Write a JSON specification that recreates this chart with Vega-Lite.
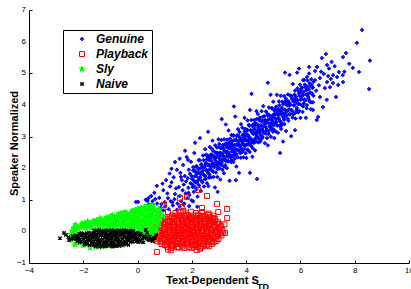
{
"$schema": "https://vega.github.io/schema/vega-lite/v6.json",
"width": 380, "height": 253,
"autosize": {"type": "none"},
"padding": {"left": 29, "top": 10, "right": 2, "bottom": 26},
"background": "white",
"config": {
"view": {"stroke": null},
"font": "Liberation Sans",
"axis": {"grid": false, "domainColor": "#000", "tickColor": "#000", "labelColor": "#000", "labelFont": "Liberation Sans", "labelFontSize": 8, "tickSize": -3, "labelPadding": 6, "labelOverlap": false, "labelFlush": false, "titleFont": "Liberation Sans", "titleFontSize": 11, "titleFontWeight": "bold", "titleColor": "#000", "domainWidth": 1, "tickWidth": 1}
},
"layer": [
{
"data": {"values": [
{"s":"G","x":0.02,"y":0.93},{"s":"G","x":0.36,"y":0.97},{"s":"G","x":0.40,"y":1.05},{"s":"G","x":0.57,"y":0.68},{"s":"G","x":0.80,"y":1.06},{"s":"G","x":0.62,"y":1.22},{"s":"G","x":0.95,"y":1.30},{"s":"G","x":1.05,"y":1.62},{"s":"G","x":0.88,"y":0.86},{"s":"G","x":1.12,"y":1.05},{"s":"G","x":1.20,"y":1.42},{"s":"G","x":1.28,"y":0.92},{"s":"G","x":1.33,"y":1.71},{"s":"G","x":1.38,"y":1.18},{"s":"G","x":1.45,"y":1.95},{"s":"G","x":1.47,"y":0.88},{"s":"G","x":0.71,"y":1.44},{"s":"G","x":1.02,"y":0.79},{"s":"G","x":1.18,"y":1.83},{"s":"G","x":1.42,"y":1.36},{"s":"G","x":0.50,"y":1.12},{"s":"G","x":1.25,"y":1.55},{"s":"G","x":1.10,"y":1.20},{"s":"G","x":1.36,"y":1.02},{"s":"G","x":0.92,"y":1.51},
{"s":"G","x":0.55,"y":0.95},{"s":"G","x":0.72,"y":0.88},{"s":"G","x":0.85,"y":0.75},{"s":"G","x":1.00,"y":0.92},{"s":"G","x":1.15,"y":0.70},{"s":"G","x":1.30,"y":0.82},{"s":"G","x":1.45,"y":0.68},{"s":"G","x":0.65,"y":1.02},{"s":"G","x":0.95,"y":0.66},{"s":"G","x":1.22,"y":0.95},{"s":"G","x":0.40,"y":0.86},{"s":"G","x":0.30,"y":1.00},{"s":"G","x":1.55,"y":0.78},{"s":"G","x":1.70,"y":0.85},{"s":"G","x":1.90,"y":0.80},{"s":"G","x":2.05,"y":0.95},{"s":"G","x":2.20,"y":0.78},{"s":"G","x":0.46,"y":0.52},{"s":"G","x":-0.06,"y":0.93},{"s":"G","x":1.38,"y":2.19},{"s":"G","x":1.55,"y":2.30},{"s":"G","x":1.25,"y":1.98},
{"s":"G","x":1.52,"y":1.40},{"s":"G","x":1.55,"y":1.12},{"s":"G","x":1.58,"y":1.85},{"s":"G","x":1.61,"y":0.95},{"s":"G","x":1.63,"y":1.62},{"s":"G","x":1.66,"y":1.30},{"s":"G","x":1.68,"y":2.10},{"s":"G","x":1.70,"y":1.48},{"s":"G","x":1.72,"y":0.88},{"s":"G","x":1.74,"y":1.75},{"s":"G","x":1.77,"y":1.20},{"s":"G","x":1.79,"y":1.58},{"s":"G","x":1.81,"y":2.35},{"s":"G","x":1.83,"y":1.05},{"s":"G","x":1.85,"y":1.68},{"s":"G","x":1.87,"y":1.38},{"s":"G","x":1.89,"y":1.95},{"s":"G","x":1.91,"y":1.15},{"s":"G","x":1.93,"y":1.82},{"s":"G","x":1.95,"y":1.52},{"s":"G","x":1.97,"y":2.20},{"s":"G","x":1.99,"y":0.98},{"s":"G","x":2.01,"y":1.66},{"s":"G","x":2.03,"y":1.40},{"s":"G","x":2.05,"y":1.92},{"s":"G","x":2.07,"y":1.25},{"s":"G","x":2.09,"y":2.48},{"s":"G","x":2.11,"y":1.74},{"s":"G","x":2.13,"y":1.55},{"s":"G","x":2.15,"y":2.05},{"s":"G","x":2.17,"y":1.33},{"s":"G","x":2.19,"y":1.85},{"s":"G","x":2.21,"y":1.10},{"s":"G","x":2.23,"y":1.62},{"s":"G","x":2.25,"y":2.25},{"s":"G","x":2.27,"y":1.45},{"s":"G","x":2.29,"y":1.98},{"s":"G","x":2.31,"y":1.70},{"s":"G","x":2.33,"y":1.28},{"s":"G","x":2.35,"y":2.12},{"s":"G","x":2.37,"y":1.88},{"s":"G","x":2.39,"y":1.55},{"s":"G","x":2.41,"y":2.40},{"s":"G","x":2.43,"y":1.78},{"s":"G","x":2.45,"y":1.42},{"s":"G","x":2.46,"y":2.02},{"s":"G","x":2.48,"y":1.65},{"s":"G","x":2.49,"y":2.60},{"s":"G","x":1.60,"y":1.72},{"s":"G","x":1.88,"y":1.22},
{"s":"G","x":2.50,"y":2.12},{"s":"G","x":2.51,"y":1.66},{"s":"G","x":2.53,"y":2.43},{"s":"G","x":2.54,"y":1.94},{"s":"G","x":2.55,"y":2.28},{"s":"G","x":2.56,"y":1.52},{"s":"G","x":2.58,"y":2.10},{"s":"G","x":2.59,"y":1.85},{"s":"G","x":2.60,"y":2.39},{"s":"G","x":2.61,"y":1.43},{"s":"G","x":2.63,"y":2.26},{"s":"G","x":2.64,"y":2.11},{"s":"G","x":2.65,"y":1.80},{"s":"G","x":2.66,"y":2.67},{"s":"G","x":2.68,"y":1.98},{"s":"G","x":2.69,"y":2.34},{"s":"G","x":2.70,"y":1.71},{"s":"G","x":2.71,"y":2.43},{"s":"G","x":2.73,"y":2.11},{"s":"G","x":2.74,"y":2.61},{"s":"G","x":2.75,"y":1.92},{"s":"G","x":2.76,"y":2.87},{"s":"G","x":2.78,"y":2.07},{"s":"G","x":2.79,"y":2.54},{"s":"G","x":2.80,"y":1.72},{"s":"G","x":2.81,"y":2.33},{"s":"G","x":2.83,"y":2.03},{"s":"G","x":2.84,"y":2.28},{"s":"G","x":2.85,"y":1.39},{"s":"G","x":2.86,"y":2.72},{"s":"G","x":2.88,"y":2.49},{"s":"G","x":2.89,"y":1.86},{"s":"G","x":2.90,"y":2.35},{"s":"G","x":2.91,"y":2.19},{"s":"G","x":2.93,"y":2.65},{"s":"G","x":2.94,"y":1.72},{"s":"G","x":2.95,"y":2.48},{"s":"G","x":2.96,"y":2.02},{"s":"G","x":2.98,"y":2.91},{"s":"G","x":2.99,"y":2.15},{"s":"G","x":3.00,"y":2.32},{"s":"G","x":3.01,"y":2.76},{"s":"G","x":3.03,"y":1.99},{"s":"G","x":3.04,"y":2.49},{"s":"G","x":3.05,"y":1.64},{"s":"G","x":3.06,"y":2.63},{"s":"G","x":3.08,"y":2.27},{"s":"G","x":3.09,"y":2.89},{"s":"G","x":3.10,"y":2.17},{"s":"G","x":3.11,"y":2.47},{"s":"G","x":3.13,"y":1.95},{"s":"G","x":3.14,"y":2.73},{"s":"G","x":3.15,"y":2.39},{"s":"G","x":3.16,"y":2.64},{"s":"G","x":3.18,"y":1.84},{"s":"G","x":3.19,"y":2.91},{"s":"G","x":3.20,"y":2.31},{"s":"G","x":3.21,"y":2.75},{"s":"G","x":3.23,"y":2.09},{"s":"G","x":3.24,"y":2.50},{"s":"G","x":3.25,"y":3.38},{"s":"G","x":3.26,"y":2.22},{"s":"G","x":3.28,"y":2.67},{"s":"G","x":3.29,"y":2.00},{"s":"G","x":3.30,"y":2.90},{"s":"G","x":3.31,"y":2.46},{"s":"G","x":3.33,"y":2.64},{"s":"G","x":3.34,"y":2.21},{"s":"G","x":3.35,"y":3.19},{"s":"G","x":3.36,"y":2.35},{"s":"G","x":3.38,"y":2.81},{"s":"G","x":3.39,"y":1.60},{"s":"G","x":3.40,"y":2.62},{"s":"G","x":3.41,"y":2.93},{"s":"G","x":3.43,"y":2.35},{"s":"G","x":3.44,"y":2.73},{"s":"G","x":3.45,"y":2.19},{"s":"G","x":3.46,"y":3.05},{"s":"G","x":3.48,"y":2.53},{"s":"G","x":3.49,"y":2.85},
{"s":"G","x":3.50,"y":2.38},{"s":"G","x":3.51,"y":2.70},{"s":"G","x":3.53,"y":2.19},{"s":"G","x":3.54,"y":3.04},{"s":"G","x":3.55,"y":2.50},{"s":"G","x":3.56,"y":2.88},{"s":"G","x":3.58,"y":2.30},{"s":"G","x":3.59,"y":2.62},{"s":"G","x":3.60,"y":3.63},{"s":"G","x":3.61,"y":2.42},{"s":"G","x":3.63,"y":2.88},{"s":"G","x":3.64,"y":2.05},{"s":"G","x":3.65,"y":3.02},{"s":"G","x":3.66,"y":2.59},{"s":"G","x":3.68,"y":2.77},{"s":"G","x":3.69,"y":2.34},{"s":"G","x":3.70,"y":3.23},{"s":"G","x":3.71,"y":2.56},{"s":"G","x":3.73,"y":3.01},{"s":"G","x":3.74,"y":1.85},{"s":"G","x":3.75,"y":2.74},{"s":"G","x":3.76,"y":3.14},{"s":"G","x":3.78,"y":2.48},{"s":"G","x":3.79,"y":2.92},{"s":"G","x":3.80,"y":2.33},{"s":"G","x":3.81,"y":3.39},{"s":"G","x":3.83,"y":2.59},{"s":"G","x":3.84,"y":2.84},{"s":"G","x":3.85,"y":2.50},{"s":"G","x":3.86,"y":3.28},{"s":"G","x":3.88,"y":2.76},{"s":"G","x":3.89,"y":3.06},{"s":"G","x":3.90,"y":2.34},{"s":"G","x":3.91,"y":2.96},{"s":"G","x":3.93,"y":2.60},{"s":"G","x":3.94,"y":3.59},{"s":"G","x":3.95,"y":2.74},{"s":"G","x":3.96,"y":3.24},{"s":"G","x":3.98,"y":2.47},{"s":"G","x":3.99,"y":2.91},{"s":"G","x":4.00,"y":3.08},{"s":"G","x":4.01,"y":2.32},{"s":"G","x":4.03,"y":3.22},{"s":"G","x":4.04,"y":2.75},{"s":"G","x":4.05,"y":3.51},{"s":"G","x":4.06,"y":2.58},{"s":"G","x":4.08,"y":3.04},{"s":"G","x":4.09,"y":2.88},{"s":"G","x":4.10,"y":3.37},{"s":"G","x":4.11,"y":2.74},{"s":"G","x":4.13,"y":2.51},{"s":"G","x":4.14,"y":3.84},{"s":"G","x":4.15,"y":2.95},{"s":"G","x":4.16,"y":3.20},{"s":"G","x":4.18,"y":2.90},{"s":"G","x":4.19,"y":3.52},{"s":"G","x":4.20,"y":2.69},{"s":"G","x":4.21,"y":3.16},{"s":"G","x":4.23,"y":2.36},{"s":"G","x":4.24,"y":3.32},{"s":"G","x":4.25,"y":2.62},{"s":"G","x":4.26,"y":3.12},{"s":"G","x":4.28,"y":2.80},{"s":"G","x":4.29,"y":3.52},{"s":"G","x":4.30,"y":2.90},{"s":"G","x":4.31,"y":3.25},{"s":"G","x":4.33,"y":2.56},{"s":"G","x":4.34,"y":3.43},{"s":"G","x":4.35,"y":3.13},{"s":"G","x":4.36,"y":2.97},{"s":"G","x":4.38,"y":3.80},{"s":"G","x":4.39,"y":2.84},{"s":"G","x":4.40,"y":3.39},{"s":"G","x":4.41,"y":3.13},{"s":"G","x":4.43,"y":3.71},{"s":"G","x":4.44,"y":2.95},{"s":"G","x":4.45,"y":3.29},{"s":"G","x":4.46,"y":2.81},{"s":"G","x":4.48,"y":3.57},{"s":"G","x":4.49,"y":3.11},
{"s":"G","x":4.50,"y":3.12},{"s":"G","x":4.51,"y":3.60},{"s":"G","x":4.53,"y":2.85},{"s":"G","x":4.54,"y":3.35},{"s":"G","x":4.56,"y":3.03},{"s":"G","x":4.57,"y":3.80},{"s":"G","x":4.59,"y":3.24},{"s":"G","x":4.60,"y":3.51},{"s":"G","x":4.61,"y":2.98},{"s":"G","x":4.63,"y":3.96},{"s":"G","x":4.64,"y":3.15},{"s":"G","x":4.66,"y":3.32},{"s":"G","x":4.67,"y":3.64},{"s":"G","x":4.69,"y":2.79},{"s":"G","x":4.70,"y":3.50},{"s":"G","x":4.71,"y":3.15},{"s":"G","x":4.73,"y":3.79},{"s":"G","x":4.74,"y":3.09},{"s":"G","x":4.76,"y":3.43},{"s":"G","x":4.77,"y":2.95},{"s":"G","x":4.79,"y":3.66},{"s":"G","x":4.80,"y":2.72},{"s":"G","x":4.81,"y":3.53},{"s":"G","x":4.83,"y":3.08},{"s":"G","x":4.84,"y":3.92},{"s":"G","x":4.86,"y":3.32},{"s":"G","x":4.87,"y":3.64},{"s":"G","x":4.89,"y":3.41},{"s":"G","x":4.90,"y":4.32},{"s":"G","x":4.91,"y":2.99},{"s":"G","x":4.93,"y":3.24},{"s":"G","x":4.94,"y":3.89},{"s":"G","x":4.96,"y":3.42},{"s":"G","x":4.97,"y":3.59},{"s":"G","x":4.99,"y":3.15},{"s":"G","x":5.00,"y":4.10},{"s":"G","x":5.01,"y":3.35},{"s":"G","x":5.03,"y":3.83},{"s":"G","x":5.04,"y":2.95},{"s":"G","x":5.06,"y":3.73},{"s":"G","x":5.07,"y":3.58},{"s":"G","x":5.09,"y":3.16},{"s":"G","x":5.10,"y":3.94},{"s":"G","x":5.11,"y":3.45},{"s":"G","x":5.13,"y":4.32},{"s":"G","x":5.14,"y":3.35},{"s":"G","x":5.16,"y":3.73},{"s":"G","x":5.17,"y":3.12},{"s":"G","x":5.19,"y":3.86},{"s":"G","x":5.20,"y":3.58},{"s":"G","x":5.21,"y":4.11},{"s":"G","x":5.23,"y":3.34},{"s":"G","x":5.24,"y":3.70},{"s":"G","x":5.26,"y":3.47},{"s":"G","x":5.27,"y":4.29},{"s":"G","x":5.29,"y":3.24},{"s":"G","x":5.30,"y":3.85},{"s":"G","x":5.31,"y":3.42},{"s":"G","x":5.33,"y":4.10},{"s":"G","x":5.34,"y":3.71},{"s":"G","x":5.36,"y":2.84},{"s":"G","x":5.37,"y":4.02},{"s":"G","x":5.39,"y":3.59},{"s":"G","x":5.40,"y":4.28},{"s":"G","x":5.41,"y":3.39},{"s":"G","x":5.43,"y":3.84},{"s":"G","x":5.44,"y":3.68},{"s":"G","x":5.46,"y":4.13},{"s":"G","x":5.47,"y":3.17},{"s":"G","x":5.49,"y":4.02},
{"s":"G","x":5.50,"y":4.10},{"s":"G","x":5.52,"y":3.80},{"s":"G","x":5.54,"y":4.33},{"s":"G","x":5.56,"y":3.50},{"s":"G","x":5.58,"y":4.06},{"s":"G","x":5.60,"y":3.70},{"s":"G","x":5.62,"y":4.30},{"s":"G","x":5.64,"y":4.01},{"s":"G","x":5.66,"y":3.01},{"s":"G","x":5.68,"y":4.24},{"s":"G","x":5.70,"y":3.80},{"s":"G","x":5.72,"y":4.66},{"s":"G","x":5.74,"y":3.70},{"s":"G","x":5.76,"y":4.15},{"s":"G","x":5.78,"y":3.99},{"s":"G","x":5.80,"y":4.45},{"s":"G","x":5.82,"y":3.57},{"s":"G","x":5.84,"y":4.26},{"s":"G","x":5.86,"y":3.83},{"s":"G","x":5.88,"y":5.02},{"s":"G","x":5.90,"y":4.15},{"s":"G","x":5.92,"y":3.76},{"s":"G","x":5.94,"y":4.44},{"s":"G","x":5.96,"y":4.03},{"s":"G","x":5.98,"y":4.64},{"s":"G","x":6.00,"y":3.59},{"s":"G","x":6.02,"y":4.41},{"s":"G","x":6.04,"y":4.19},{"s":"G","x":6.06,"y":4.55},{"s":"G","x":6.08,"y":3.78},{"s":"G","x":6.10,"y":4.32},{"s":"G","x":6.12,"y":4.04},{"s":"G","x":6.14,"y":4.79},{"s":"G","x":6.16,"y":4.18},{"s":"G","x":6.18,"y":4.56},{"s":"G","x":6.20,"y":3.59},{"s":"G","x":6.22,"y":4.47},{"s":"G","x":6.24,"y":3.99},{"s":"G","x":6.26,"y":4.77},{"s":"G","x":6.28,"y":4.35},{"s":"G","x":6.30,"y":4.21},{"s":"G","x":6.32,"y":4.99},{"s":"G","x":6.34,"y":4.11},{"s":"G","x":6.36,"y":4.59},{"s":"G","x":6.38,"y":3.86},{"s":"G","x":6.40,"y":4.81},{"s":"G","x":6.42,"y":4.37},{"s":"G","x":6.44,"y":4.54},{"s":"G","x":6.46,"y":4.08},{"s":"G","x":6.48,"y":4.73},
{"s":"G","x":2.00,"y":1.74},{"s":"G","x":2.02,"y":1.48},{"s":"G","x":2.05,"y":2.03},{"s":"G","x":2.07,"y":1.61},{"s":"G","x":2.09,"y":1.93},{"s":"G","x":2.11,"y":1.41},{"s":"G","x":2.14,"y":1.87},{"s":"G","x":2.16,"y":1.75},{"s":"G","x":2.18,"y":2.06},{"s":"G","x":2.20,"y":1.53},{"s":"G","x":2.23,"y":1.97},{"s":"G","x":2.25,"y":1.85},{"s":"G","x":2.27,"y":1.69},{"s":"G","x":2.29,"y":2.25},{"s":"G","x":2.32,"y":1.81},{"s":"G","x":2.34,"y":2.11},{"s":"G","x":2.36,"y":1.60},{"s":"G","x":2.38,"y":2.04},{"s":"G","x":2.41,"y":1.92},{"s":"G","x":2.43,"y":2.25},{"s":"G","x":2.45,"y":1.78},{"s":"G","x":2.47,"y":2.05},{"s":"G","x":2.50,"y":1.75},{"s":"G","x":2.52,"y":2.17},{"s":"G","x":2.54,"y":1.92},{"s":"G","x":2.56,"y":2.38},{"s":"G","x":2.59,"y":1.92},{"s":"G","x":2.61,"y":2.10},{"s":"G","x":2.63,"y":1.70},{"s":"G","x":2.65,"y":2.32},{"s":"G","x":2.68,"y":2.05},{"s":"G","x":2.70,"y":2.24},{"s":"G","x":2.72,"y":1.93},{"s":"G","x":2.74,"y":2.42},{"s":"G","x":2.77,"y":2.16},{"s":"G","x":2.79,"y":1.88},{"s":"G","x":2.81,"y":2.38},{"s":"G","x":2.83,"y":2.11},{"s":"G","x":2.86,"y":2.30},{"s":"G","x":2.88,"y":2.08},
{"s":"G","x":2.90,"y":2.20},{"s":"G","x":2.92,"y":2.48},{"s":"G","x":2.95,"y":1.97},{"s":"G","x":2.97,"y":2.41},{"s":"G","x":2.99,"y":2.12},{"s":"G","x":3.01,"y":2.67},{"s":"G","x":3.04,"y":2.24},{"s":"G","x":3.06,"y":2.39},{"s":"G","x":3.08,"y":2.10},{"s":"G","x":3.10,"y":2.65},{"s":"G","x":3.13,"y":2.25},{"s":"G","x":3.15,"y":2.40},{"s":"G","x":3.17,"y":2.59},{"s":"G","x":3.19,"y":2.05},{"s":"G","x":3.22,"y":2.53},{"s":"G","x":3.24,"y":2.25},{"s":"G","x":3.26,"y":2.78},{"s":"G","x":3.28,"y":2.37},{"s":"G","x":3.31,"y":2.52},{"s":"G","x":3.33,"y":2.22},{"s":"G","x":3.35,"y":2.72},{"s":"G","x":3.37,"y":2.47},{"s":"G","x":3.40,"y":2.81},{"s":"G","x":3.42,"y":2.41},{"s":"G","x":3.44,"y":2.68},{"s":"G","x":3.46,"y":2.26},{"s":"G","x":3.49,"y":2.75},{"s":"G","x":3.51,"y":2.60},{"s":"G","x":3.53,"y":3.02},{"s":"G","x":3.55,"y":2.42},{"s":"G","x":3.58,"y":2.73},{"s":"G","x":3.60,"y":2.56},{"s":"G","x":3.62,"y":2.90},{"s":"G","x":3.64,"y":2.44},{"s":"G","x":3.67,"y":2.73},{"s":"G","x":3.69,"y":3.04},{"s":"G","x":3.71,"y":2.56},{"s":"G","x":3.73,"y":2.85},{"s":"G","x":3.76,"y":2.70},{"s":"G","x":3.78,"y":2.95},
{"s":"G","x":3.80,"y":2.65},{"s":"G","x":3.82,"y":2.90},{"s":"G","x":3.85,"y":2.75},{"s":"G","x":3.87,"y":3.04},{"s":"G","x":3.89,"y":2.56},{"s":"G","x":3.91,"y":2.87},{"s":"G","x":3.94,"y":3.16},{"s":"G","x":3.96,"y":2.70},{"s":"G","x":3.98,"y":3.04},{"s":"G","x":4.00,"y":2.87},{"s":"G","x":4.03,"y":3.18},{"s":"G","x":4.05,"y":2.58},{"s":"G","x":4.07,"y":3.00},{"s":"G","x":4.09,"y":2.85},{"s":"G","x":4.12,"y":3.34},{"s":"G","x":4.14,"y":2.92},{"s":"G","x":4.16,"y":3.19},{"s":"G","x":4.18,"y":2.79},{"s":"G","x":4.21,"y":3.13},{"s":"G","x":4.23,"y":2.88},{"s":"G","x":4.25,"y":3.38},{"s":"G","x":4.27,"y":3.08},{"s":"G","x":4.30,"y":3.22},{"s":"G","x":4.32,"y":2.82},{"s":"G","x":4.34,"y":3.35},{"s":"G","x":4.36,"y":3.07},{"s":"G","x":4.39,"y":3.55},{"s":"G","x":4.41,"y":3.01},{"s":"G","x":4.43,"y":3.20},{"s":"G","x":4.45,"y":3.35},{"s":"G","x":4.48,"y":2.94},{"s":"G","x":4.50,"y":3.50},{"s":"G","x":4.52,"y":3.21},{"s":"G","x":4.54,"y":3.35},{"s":"G","x":4.57,"y":2.93},{"s":"G","x":4.59,"y":3.47},{"s":"G","x":4.61,"y":3.19},{"s":"G","x":4.63,"y":3.63},{"s":"G","x":4.66,"y":3.11},{"s":"G","x":4.68,"y":3.40},
{"s":"G","x":4.70,"y":3.52},{"s":"G","x":4.72,"y":3.30},{"s":"G","x":4.75,"y":3.48},{"s":"G","x":4.77,"y":3.22},{"s":"G","x":4.79,"y":3.72},{"s":"G","x":4.81,"y":3.44},{"s":"G","x":4.84,"y":3.18},{"s":"G","x":4.86,"y":3.67},{"s":"G","x":4.88,"y":3.35},{"s":"G","x":4.90,"y":3.55},{"s":"G","x":4.93,"y":3.27},{"s":"G","x":4.95,"y":3.90},{"s":"G","x":4.97,"y":3.50},{"s":"G","x":4.99,"y":3.68},{"s":"G","x":5.02,"y":3.22},{"s":"G","x":5.04,"y":3.67},{"s":"G","x":5.06,"y":3.43},{"s":"G","x":5.08,"y":3.85},{"s":"G","x":5.11,"y":3.54},{"s":"G","x":5.13,"y":3.82},{"s":"G","x":5.15,"y":3.35},{"s":"G","x":5.17,"y":3.68},{"s":"G","x":5.20,"y":3.56},{"s":"G","x":5.22,"y":3.99},{"s":"G","x":5.24,"y":3.49},{"s":"G","x":5.26,"y":3.79},{"s":"G","x":5.29,"y":3.34},{"s":"G","x":5.31,"y":3.91},{"s":"G","x":5.33,"y":3.75},{"s":"G","x":5.35,"y":3.63},{"s":"G","x":5.38,"y":4.06},{"s":"G","x":5.40,"y":3.53},{"s":"G","x":5.42,"y":3.85},{"s":"G","x":5.44,"y":3.73},{"s":"G","x":5.47,"y":4.19},{"s":"G","x":5.49,"y":3.67},{"s":"G","x":5.51,"y":3.98},{"s":"G","x":5.53,"y":3.57},{"s":"G","x":5.56,"y":4.11},{"s":"G","x":5.58,"y":3.86},
{"s":"G","x":5.60,"y":3.98},{"s":"G","x":5.62,"y":3.70},{"s":"G","x":5.65,"y":4.29},{"s":"G","x":5.67,"y":3.84},{"s":"G","x":5.69,"y":4.18},{"s":"G","x":5.71,"y":3.60},{"s":"G","x":5.74,"y":4.11},{"s":"G","x":5.76,"y":3.98},{"s":"G","x":5.78,"y":4.32},{"s":"G","x":5.80,"y":3.74},{"s":"G","x":5.83,"y":4.21},{"s":"G","x":5.85,"y":4.08},{"s":"G","x":5.87,"y":3.90},{"s":"G","x":5.89,"y":4.52},{"s":"G","x":5.92,"y":4.03},{"s":"G","x":5.94,"y":4.36},{"s":"G","x":5.96,"y":3.81},{"s":"G","x":5.98,"y":4.28},{"s":"G","x":6.01,"y":4.16},{"s":"G","x":6.03,"y":4.51},{"s":"G","x":6.05,"y":3.99},{"s":"G","x":6.07,"y":4.29},{"s":"G","x":6.10,"y":3.95},{"s":"G","x":6.12,"y":4.42},{"s":"G","x":6.14,"y":4.15},{"s":"G","x":6.16,"y":4.64},{"s":"G","x":6.19,"y":4.14},{"s":"G","x":6.21,"y":4.33},{"s":"G","x":6.23,"y":3.89},{"s":"G","x":6.25,"y":4.58},{"s":"G","x":6.28,"y":4.27},{"s":"G","x":6.30,"y":4.49},{"s":"G","x":6.32,"y":4.14},{"s":"G","x":6.34,"y":4.68},{"s":"G","x":6.37,"y":4.39},{"s":"G","x":6.39,"y":4.08},{"s":"G","x":6.41,"y":4.63},{"s":"G","x":6.43,"y":4.34},{"s":"G","x":6.46,"y":4.55},{"s":"G","x":6.48,"y":4.29},
{"s":"G","x":6.32,"y":5.20},{"s":"G","x":6.24,"y":4.88},{"s":"G","x":6.10,"y":4.78},
{"s":"G","x":6.54,"y":5.07},{"s":"G","x":6.79,"y":5.48},{"s":"G","x":6.94,"y":5.61},{"s":"G","x":7.15,"y":5.36},{"s":"G","x":6.61,"y":5.20},{"s":"G","x":7.02,"y":4.91},{"s":"G","x":7.20,"y":4.94},{"s":"G","x":7.42,"y":5.04},{"s":"G","x":7.56,"y":4.94},{"s":"G","x":7.57,"y":4.72},{"s":"G","x":7.20,"y":4.69},{"s":"G","x":7.09,"y":4.56},{"s":"G","x":7.39,"y":4.63},{"s":"G","x":6.72,"y":4.85},{"s":"G","x":6.90,"y":4.53},{"s":"G","x":7.31,"y":4.25},{"s":"G","x":6.97,"y":4.16},{"s":"G","x":6.72,"y":4.25},{"s":"G","x":6.54,"y":4.78},{"s":"G","x":6.83,"y":3.93},{"s":"G","x":6.65,"y":3.62},{"s":"G","x":6.58,"y":4.45},{"s":"G","x":6.86,"y":4.98},{"s":"G","x":7.05,"y":5.15},{"s":"G","x":6.68,"y":4.62},{"s":"G","x":7.26,"y":5.22},{"s":"G","x":6.98,"y":4.72},{"s":"G","x":7.12,"y":4.82},{"s":"G","x":6.76,"y":5.05},{"s":"G","x":7.35,"y":4.88},
{"s":"G","x":7.68,"y":5.64},{"s":"G","x":7.57,"y":5.51},{"s":"G","x":7.93,"y":5.17},{"s":"G","x":8.16,"y":5.04},{"s":"G","x":8.56,"y":5.40},{"s":"G","x":8.08,"y":5.96},{"s":"G","x":8.27,"y":6.37},{"s":"G","x":8.53,"y":4.50},{"s":"G","x":7.80,"y":5.30},{"s":"G","x":7.62,"y":5.05},{"s":"G","x":5.43,"y":5.02},{"s":"G","x":6.98,"y":5.26},
{"s":"G","x":4.40,"y":1.66},{"s":"G","x":4.14,"y":1.85},{"s":"G","x":5.25,"y":2.48},{"s":"G","x":6.60,"y":3.52},{"s":"G","x":6.46,"y":3.84},{"s":"G","x":3.62,"y":1.62},{"s":"G","x":2.95,"y":1.25},{"s":"G","x":5.80,"y":3.20},
{"s":"G","x":2.12,"y":2.80},{"s":"G","x":1.86,"y":2.26},{"s":"G","x":1.75,"y":2.55},{"s":"G","x":2.30,"y":2.95},{"s":"G","x":2.60,"y":3.15},{"s":"G","x":3.10,"y":3.55},{"s":"G","x":3.55,"y":3.95},{"s":"G","x":4.20,"y":4.35},{"s":"G","x":4.80,"y":4.70},{"s":"G","x":5.60,"y":4.95},{"s":"G","x":5.95,"y":5.15},

{"s":"P","x":1.10,"y":-0.49},{"s":"P","x":1.23,"y":-0.52},{"s":"P","x":1.31,"y":-0.47},{"s":"P","x":1.46,"y":-0.50},{"s":"P","x":1.52,"y":-0.51},{"s":"P","x":1.66,"y":-0.48},{"s":"P","x":1.73,"y":-0.53},{"s":"P","x":1.89,"y":-0.49},{"s":"P","x":1.98,"y":-0.52},{"s":"P","x":2.07,"y":-0.48},{"s":"P","x":2.21,"y":-0.50},{"s":"P","x":2.33,"y":-0.51},{"s":"P","x":2.42,"y":-0.47},
{"s":"P","x":0.88,"y":-0.40},{"s":"P","x":1.01,"y":-0.43},{"s":"P","x":1.09,"y":-0.39},{"s":"P","x":1.24,"y":-0.41},{"s":"P","x":1.30,"y":-0.44},{"s":"P","x":1.44,"y":-0.40},{"s":"P","x":1.57,"y":-0.38},{"s":"P","x":1.63,"y":-0.42},{"s":"P","x":1.78,"y":-0.41},{"s":"P","x":1.86,"y":-0.39},{"s":"P","x":2.00,"y":-0.43},{"s":"P","x":2.11,"y":-0.40},{"s":"P","x":2.18,"y":-0.42},{"s":"P","x":2.33,"y":-0.38},{"s":"P","x":2.41,"y":-0.41},{"s":"P","x":2.55,"y":-0.44},{"s":"P","x":2.63,"y":-0.39},{"s":"P","x":2.74,"y":-0.40},
{"s":"P","x":0.71,"y":-0.31},{"s":"P","x":0.85,"y":-0.34},{"s":"P","x":0.93,"y":-0.30},{"s":"P","x":1.07,"y":-0.33},{"s":"P","x":1.15,"y":-0.32},{"s":"P","x":1.29,"y":-0.29},{"s":"P","x":1.36,"y":-0.35},{"s":"P","x":1.50,"y":-0.31},{"s":"P","x":1.62,"y":-0.33},{"s":"P","x":1.70,"y":-0.30},{"s":"P","x":1.84,"y":-0.32},{"s":"P","x":1.92,"y":-0.34},{"s":"P","x":2.06,"y":-0.29},{"s":"P","x":2.14,"y":-0.32},{"s":"P","x":2.27,"y":-0.35},{"s":"P","x":2.39,"y":-0.31},{"s":"P","x":2.47,"y":-0.30},{"s":"P","x":2.60,"y":-0.33},{"s":"P","x":2.72,"y":-0.31},{"s":"P","x":2.80,"y":-0.34},{"s":"P","x":2.91,"y":-0.30},
{"s":"P","x":0.58,"y":-0.22},{"s":"P","x":0.66,"y":-0.25},{"s":"P","x":0.80,"y":-0.21},{"s":"P","x":0.92,"y":-0.24},{"s":"P","x":1.00,"y":-0.23},{"s":"P","x":1.14,"y":-0.20},{"s":"P","x":1.22,"y":-0.26},{"s":"P","x":1.35,"y":-0.22},{"s":"P","x":1.47,"y":-0.24},{"s":"P","x":1.55,"y":-0.21},{"s":"P","x":1.68,"y":-0.23},{"s":"P","x":1.80,"y":-0.25},{"s":"P","x":1.88,"y":-0.20},{"s":"P","x":2.01,"y":-0.23},{"s":"P","x":2.13,"y":-0.26},{"s":"P","x":2.21,"y":-0.22},{"s":"P","x":2.34,"y":-0.21},{"s":"P","x":2.46,"y":-0.24},{"s":"P","x":2.54,"y":-0.22},{"s":"P","x":2.67,"y":-0.25},{"s":"P","x":2.79,"y":-0.21},{"s":"P","x":2.87,"y":-0.23},{"s":"P","x":2.98,"y":-0.24},
{"s":"P","x":0.47,"y":-0.13},{"s":"P","x":0.55,"y":-0.16},{"s":"P","x":0.69,"y":-0.12},{"s":"P","x":0.81,"y":-0.15},{"s":"P","x":0.89,"y":-0.14},{"s":"P","x":1.03,"y":-0.11},{"s":"P","x":1.11,"y":-0.17},{"s":"P","x":1.24,"y":-0.13},{"s":"P","x":1.36,"y":-0.15},{"s":"P","x":1.44,"y":-0.12},{"s":"P","x":1.58,"y":-0.14},{"s":"P","x":1.66,"y":-0.16},{"s":"P","x":1.79,"y":-0.11},{"s":"P","x":1.91,"y":-0.14},{"s":"P","x":1.99,"y":-0.17},{"s":"P","x":2.12,"y":-0.13},{"s":"P","x":2.24,"y":-0.12},{"s":"P","x":2.32,"y":-0.15},{"s":"P","x":2.45,"y":-0.13},{"s":"P","x":2.57,"y":-0.16},{"s":"P","x":2.65,"y":-0.12},{"s":"P","x":2.78,"y":-0.14},{"s":"P","x":2.90,"y":-0.15},{"s":"P","x":2.98,"y":-0.11},{"s":"P","x":3.09,"y":-0.13},
{"s":"P","x":0.42,"y":-0.04},{"s":"P","x":0.50,"y":-0.07},{"s":"P","x":0.64,"y":-0.03},{"s":"P","x":0.76,"y":-0.06},{"s":"P","x":0.84,"y":-0.05},{"s":"P","x":0.98,"y":-0.02},{"s":"P","x":1.06,"y":-0.08},{"s":"P","x":1.19,"y":-0.04},{"s":"P","x":1.31,"y":-0.06},{"s":"P","x":1.39,"y":-0.03},{"s":"P","x":1.53,"y":-0.05},{"s":"P","x":1.61,"y":-0.07},{"s":"P","x":1.74,"y":-0.02},{"s":"P","x":1.86,"y":-0.05},{"s":"P","x":1.94,"y":-0.08},{"s":"P","x":2.07,"y":-0.04},{"s":"P","x":2.19,"y":-0.03},{"s":"P","x":2.27,"y":-0.06},{"s":"P","x":2.40,"y":-0.04},{"s":"P","x":2.52,"y":-0.07},{"s":"P","x":2.60,"y":-0.03},{"s":"P","x":2.73,"y":-0.05},{"s":"P","x":2.85,"y":-0.06},{"s":"P","x":2.93,"y":-0.02},{"s":"P","x":3.06,"y":-0.04},{"s":"P","x":3.15,"y":-0.05},
{"s":"P","x":0.45,"y":0.05},{"s":"P","x":0.58,"y":0.02},{"s":"P","x":0.67,"y":0.06},{"s":"P","x":0.80,"y":0.03},{"s":"P","x":0.92,"y":0.04},{"s":"P","x":1.00,"y":0.07},{"s":"P","x":1.13,"y":0.01},{"s":"P","x":1.25,"y":0.05},{"s":"P","x":1.33,"y":0.03},{"s":"P","x":1.46,"y":0.06},{"s":"P","x":1.58,"y":0.04},{"s":"P","x":1.66,"y":0.02},{"s":"P","x":1.77,"y":0.07},{"s":"P","x":1.90,"y":0.04},{"s":"P","x":2.02,"y":0.01},{"s":"P","x":2.10,"y":0.05},{"s":"P","x":2.23,"y":0.06},{"s":"P","x":2.35,"y":0.03},{"s":"P","x":2.43,"y":0.05},{"s":"P","x":2.56,"y":0.02},{"s":"P","x":2.68,"y":0.06},{"s":"P","x":2.76,"y":0.04},{"s":"P","x":2.89,"y":0.03},{"s":"P","x":3.01,"y":0.07},{"s":"P","x":3.12,"y":0.05},
{"s":"P","x":0.56,"y":0.14},{"s":"P","x":0.69,"y":0.11},{"s":"P","x":0.81,"y":0.15},{"s":"P","x":0.89,"y":0.12},{"s":"P","x":1.02,"y":0.13},{"s":"P","x":1.14,"y":0.16},{"s":"P","x":1.22,"y":0.10},{"s":"P","x":1.35,"y":0.14},{"s":"P","x":1.47,"y":0.12},{"s":"P","x":1.55,"y":0.15},{"s":"P","x":1.68,"y":0.13},{"s":"P","x":1.79,"y":0.11},{"s":"P","x":1.88,"y":0.16},{"s":"P","x":2.01,"y":0.13},{"s":"P","x":2.13,"y":0.10},{"s":"P","x":2.21,"y":0.14},{"s":"P","x":2.34,"y":0.15},{"s":"P","x":2.45,"y":0.12},{"s":"P","x":2.54,"y":0.14},{"s":"P","x":2.67,"y":0.11},{"s":"P","x":2.79,"y":0.15},{"s":"P","x":2.87,"y":0.13},{"s":"P","x":3.00,"y":0.12},{"s":"P","x":3.08,"y":0.16},
{"s":"P","x":0.73,"y":0.23},{"s":"P","x":0.82,"y":0.20},{"s":"P","x":0.96,"y":0.24},{"s":"P","x":1.04,"y":0.21},{"s":"P","x":1.17,"y":0.22},{"s":"P","x":1.29,"y":0.25},{"s":"P","x":1.37,"y":0.19},{"s":"P","x":1.50,"y":0.23},{"s":"P","x":1.62,"y":0.21},{"s":"P","x":1.70,"y":0.24},{"s":"P","x":1.83,"y":0.22},{"s":"P","x":1.95,"y":0.20},{"s":"P","x":2.03,"y":0.25},{"s":"P","x":2.16,"y":0.22},{"s":"P","x":2.28,"y":0.19},{"s":"P","x":2.36,"y":0.23},{"s":"P","x":2.49,"y":0.24},{"s":"P","x":2.61,"y":0.21},{"s":"P","x":2.69,"y":0.23},{"s":"P","x":2.82,"y":0.20},{"s":"P","x":2.93,"y":0.24},{"s":"P","x":3.02,"y":0.22},
{"s":"P","x":0.87,"y":0.32},{"s":"P","x":1.00,"y":0.29},{"s":"P","x":1.12,"y":0.33},{"s":"P","x":1.20,"y":0.30},{"s":"P","x":1.33,"y":0.31},{"s":"P","x":1.45,"y":0.34},{"s":"P","x":1.53,"y":0.28},{"s":"P","x":1.66,"y":0.32},{"s":"P","x":1.78,"y":0.30},{"s":"P","x":1.86,"y":0.33},{"s":"P","x":1.99,"y":0.31},{"s":"P","x":2.11,"y":0.29},{"s":"P","x":2.19,"y":0.34},{"s":"P","x":2.32,"y":0.31},{"s":"P","x":2.44,"y":0.28},{"s":"P","x":2.52,"y":0.32},{"s":"P","x":2.65,"y":0.33},{"s":"P","x":2.77,"y":0.30},{"s":"P","x":2.85,"y":0.32},{"s":"P","x":2.96,"y":0.29},
{"s":"P","x":1.02,"y":0.41},{"s":"P","x":1.11,"y":0.38},{"s":"P","x":1.25,"y":0.42},{"s":"P","x":1.33,"y":0.39},{"s":"P","x":1.46,"y":0.40},{"s":"P","x":1.58,"y":0.43},{"s":"P","x":1.66,"y":0.37},{"s":"P","x":1.79,"y":0.41},{"s":"P","x":1.91,"y":0.39},{"s":"P","x":1.99,"y":0.42},{"s":"P","x":2.12,"y":0.40},{"s":"P","x":2.24,"y":0.38},{"s":"P","x":2.32,"y":0.43},{"s":"P","x":2.45,"y":0.40},{"s":"P","x":2.57,"y":0.37},{"s":"P","x":2.65,"y":0.41},{"s":"P","x":2.78,"y":0.42},{"s":"P","x":2.86,"y":0.39},
{"s":"P","x":1.27,"y":0.50},{"s":"P","x":1.36,"y":0.47},{"s":"P","x":1.50,"y":0.51},{"s":"P","x":1.58,"y":0.48},{"s":"P","x":1.71,"y":0.49},{"s":"P","x":1.83,"y":0.52},{"s":"P","x":1.91,"y":0.46},{"s":"P","x":2.04,"y":0.50},{"s":"P","x":2.16,"y":0.48},{"s":"P","x":2.24,"y":0.51},{"s":"P","x":2.37,"y":0.49},{"s":"P","x":2.49,"y":0.47},{"s":"P","x":2.60,"y":0.52},
{"s":"P","x":1.55,"y":0.60},{"s":"P","x":1.78,"y":0.57},{"s":"P","x":1.97,"y":0.62},{"s":"P","x":2.15,"y":0.58},{"s":"P","x":2.38,"y":0.61},{"s":"P","x":2.62,"y":0.56},{"s":"P","x":1.40,"y":0.58},{"s":"P","x":2.80,"y":0.50},
{"s":"P","x":2.23,"y":1.31},{"s":"P","x":2.56,"y":1.12},{"s":"P","x":2.93,"y":0.87},{"s":"P","x":3.30,"y":0.71},{"s":"P","x":3.30,"y":0.42},{"s":"P","x":2.97,"y":0.61},{"s":"P","x":1.56,"y":1.06},{"s":"P","x":1.82,"y":1.09},{"s":"P","x":1.63,"y":0.77},{"s":"P","x":1.68,"y":0.64},{"s":"P","x":1.12,"y":0.61},{"s":"P","x":0.97,"y":0.83},{"s":"P","x":2.67,"y":0.45},{"s":"P","x":2.37,"y":0.74},{"s":"P","x":0.53,"y":0.80},{"s":"P","x":0.71,"y":-0.65},{"s":"P","x":1.12,"y":-0.57},{"s":"P","x":1.22,"y":-0.60},{"s":"P","x":2.18,"y":-0.59},{"s":"P","x":2.30,"y":-0.55},{"s":"P","x":2.64,"y":-0.47},{"s":"P","x":3.20,"y":0.22},{"s":"P","x":3.22,"y":-0.05},

{"s":"S","x":0.37,"y":0.82},{"s":"S","x":0.46,"y":0.79},{"s":"S","x":0.58,"y":0.84},{"s":"S","x":0.25,"y":0.77},{"s":"S","x":0.12,"y":0.75},
{"s":"S","x":0.01,"y":0.72},{"s":"S","x":0.09,"y":0.67},{"s":"S","x":0.25,"y":0.70},{"s":"S","x":0.33,"y":0.73},{"s":"S","x":0.43,"y":0.69},{"s":"S","x":0.57,"y":0.72},{"s":"S","x":0.63,"y":0.68},{"s":"S","x":0.78,"y":0.71},{"s":"S","x":-0.08,"y":0.68},{"s":"S","x":-0.20,"y":0.66},
{"s":"S","x":-0.47,"y":0.62},{"s":"S","x":-0.39,"y":0.57},{"s":"S","x":-0.23,"y":0.60},{"s":"S","x":-0.15,"y":0.63},{"s":"S","x":-0.05,"y":0.59},{"s":"S","x":0.09,"y":0.62},{"s":"S","x":0.15,"y":0.58},{"s":"S","x":0.30,"y":0.64},{"s":"S","x":0.38,"y":0.57},{"s":"S","x":0.53,"y":0.61},{"s":"S","x":0.62,"y":0.63},{"s":"S","x":0.72,"y":0.58},{"s":"S","x":0.85,"y":0.60},{"s":"S","x":-0.60,"y":0.58},{"s":"S","x":-0.70,"y":0.56},
{"s":"S","x":-0.93,"y":0.52},{"s":"S","x":-0.85,"y":0.47},{"s":"S","x":-0.69,"y":0.50},{"s":"S","x":-0.61,"y":0.53},{"s":"S","x":-0.51,"y":0.49},{"s":"S","x":-0.37,"y":0.52},{"s":"S","x":-0.31,"y":0.48},{"s":"S","x":-0.16,"y":0.54},{"s":"S","x":-0.08,"y":0.47},{"s":"S","x":0.07,"y":0.51},{"s":"S","x":0.16,"y":0.53},{"s":"S","x":0.26,"y":0.48},{"s":"S","x":0.38,"y":0.50},{"s":"S","x":0.50,"y":0.52},{"s":"S","x":0.58,"y":0.47},{"s":"S","x":0.73,"y":0.50},{"s":"S","x":0.79,"y":0.53},{"s":"S","x":0.94,"y":0.48},{"s":"S","x":-1.05,"y":0.46},{"s":"S","x":-1.15,"y":0.44},
{"s":"S","x":-1.38,"y":0.42},{"s":"S","x":-1.30,"y":0.37},{"s":"S","x":-1.14,"y":0.40},{"s":"S","x":-1.06,"y":0.43},{"s":"S","x":-0.96,"y":0.39},{"s":"S","x":-0.82,"y":0.42},{"s":"S","x":-0.76,"y":0.38},{"s":"S","x":-0.61,"y":0.44},{"s":"S","x":-0.53,"y":0.37},{"s":"S","x":-0.38,"y":0.41},{"s":"S","x":-0.29,"y":0.43},{"s":"S","x":-0.19,"y":0.38},{"s":"S","x":-0.06,"y":0.40},{"s":"S","x":0.02,"y":0.42},{"s":"S","x":0.18,"y":0.37},{"s":"S","x":0.26,"y":0.40},{"s":"S","x":0.36,"y":0.43},{"s":"S","x":0.49,"y":0.39},{"s":"S","x":0.57,"y":0.44},{"s":"S","x":0.72,"y":0.37},{"s":"S","x":0.80,"y":0.41},{"s":"S","x":-1.50,"y":0.36},{"s":"S","x":-1.62,"y":0.34},
{"s":"S","x":-1.84,"y":0.32},{"s":"S","x":-1.76,"y":0.27},{"s":"S","x":-1.60,"y":0.30},{"s":"S","x":-1.52,"y":0.33},{"s":"S","x":-1.42,"y":0.29},{"s":"S","x":-1.28,"y":0.32},{"s":"S","x":-1.22,"y":0.28},{"s":"S","x":-1.07,"y":0.34},{"s":"S","x":-0.99,"y":0.27},{"s":"S","x":-0.84,"y":0.31},{"s":"S","x":-0.75,"y":0.33},{"s":"S","x":-0.65,"y":0.28},{"s":"S","x":-0.52,"y":0.30},{"s":"S","x":-0.44,"y":0.32},{"s":"S","x":-0.28,"y":0.27},{"s":"S","x":-0.20,"y":0.30},{"s":"S","x":-0.10,"y":0.33},{"s":"S","x":0.04,"y":0.29},{"s":"S","x":0.11,"y":0.32},{"s":"S","x":0.27,"y":0.28},{"s":"S","x":0.35,"y":0.34},{"s":"S","x":0.45,"y":0.27},{"s":"S","x":0.55,"y":0.31},{"s":"S","x":0.70,"y":0.33},{"s":"S","x":0.78,"y":0.28},{"s":"S","x":-1.95,"y":0.26},{"s":"S","x":-2.05,"y":0.25},
{"s":"S","x":-2.29,"y":0.22},{"s":"S","x":-2.21,"y":0.17},{"s":"S","x":-2.05,"y":0.20},{"s":"S","x":-1.97,"y":0.23},{"s":"S","x":-1.87,"y":0.19},{"s":"S","x":-1.73,"y":0.22},{"s":"S","x":-1.67,"y":0.18},{"s":"S","x":-1.52,"y":0.24},{"s":"S","x":-1.44,"y":0.17},{"s":"S","x":-1.29,"y":0.21},{"s":"S","x":-1.20,"y":0.23},{"s":"S","x":-1.10,"y":0.18},{"s":"S","x":-0.98,"y":0.20},{"s":"S","x":-0.86,"y":0.22},{"s":"S","x":-0.78,"y":0.17},{"s":"S","x":-0.62,"y":0.20},{"s":"S","x":-0.57,"y":0.23},{"s":"S","x":-0.42,"y":0.19},{"s":"S","x":-0.34,"y":0.22},{"s":"S","x":-0.19,"y":0.18},{"s":"S","x":-0.10,"y":0.24},{"s":"S","x":0.0,"y":0.17},{"s":"S","x":0.15,"y":0.21},{"s":"S","x":0.23,"y":0.23},{"s":"S","x":0.33,"y":0.18},{"s":"S","x":0.47,"y":0.20},{"s":"S","x":0.53,"y":0.22},{"s":"S","x":0.68,"y":0.17},{"s":"S","x":0.76,"y":0.20},
{"s":"S","x":-2.36,"y":0.11},{"s":"S","x":-2.20,"y":0.08},{"s":"S","x":-2.04,"y":0.12},{"s":"S","x":-1.88,"y":0.09},{"s":"S","x":-1.72,"y":0.11},{"s":"S","x":-1.56,"y":0.07},{"s":"S","x":-1.40,"y":0.12},{"s":"S","x":-1.24,"y":0.10},{"s":"S","x":-1.08,"y":0.08},{"s":"S","x":-0.92,"y":0.12},{"s":"S","x":-0.76,"y":0.09},{"s":"S","x":-0.60,"y":0.11},{"s":"S","x":-0.44,"y":0.07},{"s":"S","x":-0.28,"y":0.12},{"s":"S","x":-0.12,"y":0.10},{"s":"S","x":0.04,"y":0.08},{"s":"S","x":0.20,"y":0.12},{"s":"S","x":0.36,"y":0.09},{"s":"S","x":0.52,"y":0.11},{"s":"S","x":0.68,"y":0.08},
{"s":"S","x":-2.42,"y":0.01},{"s":"S","x":-2.31,"y":-0.02},{"s":"S","x":0.06,"y":0.01},{"s":"S","x":0.17,"y":-0.02},{"s":"S","x":0.27,"y":0.02},{"s":"S","x":0.39,"y":-0.01},{"s":"S","x":0.48,"y":0.02},{"s":"S","x":0.61,"y":-0.02},{"s":"S","x":0.70,"y":0.01},
{"s":"S","x":-2.45,"y":-0.09},{"s":"S","x":-2.34,"y":-0.12},{"s":"S","x":0.13,"y":-0.09},{"s":"S","x":0.24,"y":-0.12},{"s":"S","x":0.37,"y":-0.08},{"s":"S","x":0.49,"y":-0.11},{"s":"S","x":0.60,"y":-0.10},
{"s":"S","x":-2.47,"y":-0.19},{"s":"S","x":-2.37,"y":-0.22},{"s":"S","x":0.30,"y":-0.20},{"s":"S","x":0.45,"y":-0.18},
{"s":"S","x":-1.75,"y":-0.52},{"s":"S","x":-1.31,"y":-0.49},{"s":"S","x":-2.12,"y":-0.36},{"s":"S","x":-2.42,"y":-0.28},{"s":"S","x":-1.55,"y":-0.50},{"s":"S","x":-0.95,"y":-0.47},{"s":"S","x":-2.30,"y":-0.42},{"s":"S","x":-2.25,"y":-0.30},{"s":"S","x":-0.55,"y":-0.45},{"s":"S","x":-2.00,"y":-0.45},

{"s":"N","x":-1.60,"y":0.03},{"s":"N","x":-1.52,"y":0.01},{"s":"N","x":-1.41,"y":0.04},{"s":"N","x":-1.33,"y":0.02},{"s":"N","x":-1.25,"y":0.00},{"s":"N","x":-1.14,"y":0.03},{"s":"N","x":-1.07,"y":0.01},{"s":"N","x":-0.96,"y":0.04},{"s":"N","x":-0.88,"y":0.02},{"s":"N","x":-0.80,"y":0.00},{"s":"N","x":-0.69,"y":0.03},{"s":"N","x":-0.62,"y":0.01},{"s":"N","x":-0.51,"y":0.04},{"s":"N","x":-0.43,"y":0.02},{"s":"N","x":-0.35,"y":0.00},{"s":"N","x":-0.24,"y":0.03},{"s":"N","x":-0.16,"y":0.01},
{"s":"N","x":-2.15,"y":-0.07},{"s":"N","x":-2.07,"y":-0.05},{"s":"N","x":-1.96,"y":-0.08},{"s":"N","x":-1.88,"y":-0.06},{"s":"N","x":-1.80,"y":-0.04},{"s":"N","x":-1.69,"y":-0.07},{"s":"N","x":-1.62,"y":-0.05},{"s":"N","x":-1.51,"y":-0.08},{"s":"N","x":-1.43,"y":-0.06},{"s":"N","x":-1.35,"y":-0.04},{"s":"N","x":-1.24,"y":-0.07},{"s":"N","x":-1.17,"y":-0.05},{"s":"N","x":-1.06,"y":-0.08},{"s":"N","x":-0.98,"y":-0.06},{"s":"N","x":-0.90,"y":-0.04},{"s":"N","x":-0.79,"y":-0.07},{"s":"N","x":-0.72,"y":-0.05},{"s":"N","x":-0.61,"y":-0.08},{"s":"N","x":-0.53,"y":-0.06},{"s":"N","x":-0.45,"y":-0.04},{"s":"N","x":-0.34,"y":-0.07},{"s":"N","x":-0.27,"y":-0.05},{"s":"N","x":-0.16,"y":-0.08},{"s":"N","x":-0.08,"y":-0.06},{"s":"N","x":0.00,"y":-0.04},{"s":"N","x":0.11,"y":-0.07},
{"s":"N","x":-2.38,"y":-0.15},{"s":"N","x":-2.28,"y":-0.13},{"s":"N","x":-2.21,"y":-0.16},{"s":"N","x":-2.09,"y":-0.14},{"s":"N","x":-2.04,"y":-0.12},{"s":"N","x":-1.92,"y":-0.15},{"s":"N","x":-1.84,"y":-0.17},{"s":"N","x":-1.76,"y":-0.14},{"s":"N","x":-1.66,"y":-0.15},{"s":"N","x":-1.56,"y":-0.13},{"s":"N","x":-1.49,"y":-0.16},{"s":"N","x":-1.37,"y":-0.14},{"s":"N","x":-1.32,"y":-0.12},{"s":"N","x":-1.20,"y":-0.15},{"s":"N","x":-1.12,"y":-0.17},{"s":"N","x":-1.04,"y":-0.14},{"s":"N","x":-0.94,"y":-0.15},{"s":"N","x":-0.84,"y":-0.13},{"s":"N","x":-0.77,"y":-0.16},{"s":"N","x":-0.65,"y":-0.14},{"s":"N","x":-0.60,"y":-0.12},{"s":"N","x":-0.48,"y":-0.15},{"s":"N","x":-0.40,"y":-0.17},{"s":"N","x":-0.32,"y":-0.14},{"s":"N","x":-0.22,"y":-0.15},{"s":"N","x":-0.12,"y":-0.13},{"s":"N","x":-0.05,"y":-0.16},{"s":"N","x":0.07,"y":-0.14},{"s":"N","x":0.12,"y":-0.12},{"s":"N","x":0.24,"y":-0.15},{"s":"N","x":0.32,"y":-0.17},
{"s":"N","x":-2.45,"y":-0.24},{"s":"N","x":-2.38,"y":-0.22},{"s":"N","x":-2.26,"y":-0.25},{"s":"N","x":-2.19,"y":-0.23},{"s":"N","x":-2.12,"y":-0.26},{"s":"N","x":-2.00,"y":-0.24},{"s":"N","x":-1.93,"y":-0.21},{"s":"N","x":-1.83,"y":-0.25},{"s":"N","x":-1.73,"y":-0.24},{"s":"N","x":-1.66,"y":-0.22},{"s":"N","x":-1.54,"y":-0.25},{"s":"N","x":-1.47,"y":-0.23},{"s":"N","x":-1.40,"y":-0.26},{"s":"N","x":-1.28,"y":-0.24},{"s":"N","x":-1.21,"y":-0.21},{"s":"N","x":-1.11,"y":-0.25},{"s":"N","x":-1.01,"y":-0.24},{"s":"N","x":-0.94,"y":-0.22},{"s":"N","x":-0.82,"y":-0.25},{"s":"N","x":-0.75,"y":-0.23},{"s":"N","x":-0.68,"y":-0.26},{"s":"N","x":-0.56,"y":-0.24},{"s":"N","x":-0.49,"y":-0.21},{"s":"N","x":-0.39,"y":-0.25},{"s":"N","x":-0.29,"y":-0.24},{"s":"N","x":-0.22,"y":-0.22},{"s":"N","x":-0.10,"y":-0.25},{"s":"N","x":-0.03,"y":-0.23},{"s":"N","x":0.04,"y":-0.26},{"s":"N","x":0.16,"y":-0.24},{"s":"N","x":0.26,"y":-0.21},{"s":"N","x":0.38,"y":-0.25},{"s":"N","x":0.50,"y":-0.24},{"s":"N","x":0.62,"y":-0.22},
{"s":"N","x":-2.21,"y":-0.31},{"s":"N","x":-2.14,"y":-0.34},{"s":"N","x":-2.07,"y":-0.32},{"s":"N","x":-1.95,"y":-0.35},{"s":"N","x":-1.87,"y":-0.33},{"s":"N","x":-1.77,"y":-0.30},{"s":"N","x":-1.70,"y":-0.34},{"s":"N","x":-1.61,"y":-0.33},{"s":"N","x":-1.49,"y":-0.31},{"s":"N","x":-1.42,"y":-0.34},{"s":"N","x":-1.35,"y":-0.32},{"s":"N","x":-1.23,"y":-0.35},{"s":"N","x":-1.15,"y":-0.33},{"s":"N","x":-1.05,"y":-0.30},{"s":"N","x":-0.98,"y":-0.34},{"s":"N","x":-0.89,"y":-0.33},{"s":"N","x":-0.77,"y":-0.31},{"s":"N","x":-0.70,"y":-0.34},{"s":"N","x":-0.63,"y":-0.32},{"s":"N","x":-0.51,"y":-0.35},{"s":"N","x":-0.43,"y":-0.33},{"s":"N","x":-0.33,"y":-0.30},{"s":"N","x":-0.26,"y":-0.34},{"s":"N","x":-0.17,"y":-0.33},{"s":"N","x":-0.05,"y":-0.31},{"s":"N","x":0.02,"y":-0.34},{"s":"N","x":0.09,"y":-0.32},{"s":"N","x":0.21,"y":-0.35},
{"s":"N","x":-1.95,"y":-0.42},{"s":"N","x":-1.85,"y":-0.40},{"s":"N","x":-1.78,"y":-0.43},{"s":"N","x":-1.66,"y":-0.41},{"s":"N","x":-1.61,"y":-0.44},{"s":"N","x":-1.49,"y":-0.42},{"s":"N","x":-1.41,"y":-0.39},{"s":"N","x":-1.33,"y":-0.43},{"s":"N","x":-1.23,"y":-0.42},{"s":"N","x":-1.13,"y":-0.40},{"s":"N","x":-1.06,"y":-0.43},{"s":"N","x":-0.94,"y":-0.41},{"s":"N","x":-0.89,"y":-0.44},{"s":"N","x":-0.77,"y":-0.42},{"s":"N","x":-0.69,"y":-0.39},{"s":"N","x":-0.61,"y":-0.43},{"s":"N","x":-0.51,"y":-0.42},{"s":"N","x":-0.41,"y":-0.40},{"s":"N","x":-0.34,"y":-0.43},
{"s":"N","x":-1.55,"y":-0.47},{"s":"N","x":-1.42,"y":-0.49},{"s":"N","x":-1.30,"y":-0.47},{"s":"N","x":-1.18,"y":-0.48},{"s":"N","x":-1.05,"y":-0.46},{"s":"N","x":-0.92,"y":-0.48},{"s":"N","x":-0.80,"y":-0.47},{"s":"N","x":-0.68,"y":-0.46},
{"s":"N","x":-2.86,"y":-0.22},{"s":"N","x":-2.71,"y":-0.05},{"s":"N","x":-2.64,"y":-0.11},{"s":"N","x":-2.55,"y":-0.18},{"s":"N","x":-2.52,"y":-0.28},{"s":"N","x":0.35,"y":-0.05},{"s":"N","x":0.45,"y":-0.16},{"s":"N","x":0.60,"y":-0.22},{"s":"N","x":0.55,"y":-0.31},{"s":"N","x":0.30,"y":0.05},{"s":"N","x":0.68,"y":-0.12},{"s":"N","x":0.42,"y":-0.28}
]},
"mark": {"type": "point", "opacity": 1, "strokeWidth": 1, "size": 25},
"encoding": {
"x": {"field": "x", "type": "quantitative", "scale": {"domain": [-4, 10], "nice": false, "zero": false}, "axis": {"values": [-4, -2, 0, 2, 4, 6, 8, 10], "labelOverlap": false, "labelFlush": false, "title": "Text-Dependent S", "titleX": 183, "titleY": 20.5, "titleBaseline": "alphabetic", "titleAlign": "center"}},
"y": {"field": "y", "type": "quantitative", "scale": {"domain": [-1, 7], "nice": false, "zero": false}, "axis": {"values": [-1, 0, 1, 2, 3, 4, 5, 6, 7], "labels": false, "title": "Speaker Normalized", "titleX": -15, "titleY": 133, "titleAngle": 270, "titleBaseline": "middle", "titleAlign": "center"}},
"stroke": {"field": "s", "type": "nominal", "scale": {"domain": ["G", "P", "S", "N"], "range": ["#0000ff", "#ff0000", "#00ff00", "#000000"]},
  "legend": {"title": null, "orient": "none", "legendX": 34, "legendY": 20, "padding": 3, "strokeColor": "#000", "fillColor": "#fff", "symbolSize": 25, "symbolStrokeWidth": 1, "symbolOffset": 10, "labelOffset": 8, "labelFont": "Liberation Sans", "labelFontSize": 12, "labelFontWeight": "bold", "labelFontStyle": "italic", "labelColor": "#000", "rowPadding": 3, "labelExpr": "{'G':'Genuine','P':'Playback','S':'Sly','N':'Naive'}[datum.label]"}},
"fill": {"field": "s", "type": "nominal", "scale": {"domain": ["G", "P", "S", "N"], "range": ["#0000ff", "transparent", "#00ff00", "#000000"]},
  "legend": {"title": null, "orient": "none", "legendX": 34, "legendY": 20, "padding": 3, "strokeColor": "#000", "fillColor": "#fff", "symbolSize": 25, "symbolStrokeWidth": 1, "symbolOffset": 10, "labelOffset": 8, "labelFont": "Liberation Sans", "labelFontSize": 12, "labelFontWeight": "bold", "labelFontStyle": "italic", "labelColor": "#000", "rowPadding": 3, "labelExpr": "{'G':'Genuine','P':'Playback','S':'Sly','N':'Naive'}[datum.label]"}},
"shape": {"field": "s", "type": "nominal", "scale": {"domain": ["G", "P", "S", "N"], "range": ["M-0.6,-0.2H-0.2V-0.6H0.2V-0.2H0.6V0.2H0.2V0.6H-0.2V0.2H-0.6Z", "square", "M0,-1.1L0.26,-0.36L1.05,-0.34L0.42,0.14L0.65,0.89L0,0.44L-0.65,0.89L-0.42,0.14L-1.05,-0.34L-0.26,-0.36Z", "M-0.45,-0.67L0.67,0.45L0.45,0.67L-0.67,-0.45ZM-0.45,0.67L0.67,-0.45L0.45,-0.67L-0.67,0.45Z"]},
  "legend": {"title": null, "orient": "none", "legendX": 34, "legendY": 20, "padding": 3, "strokeColor": "#000", "fillColor": "#fff", "symbolSize": 25, "symbolStrokeWidth": 1, "symbolOffset": 10, "labelOffset": 8, "labelFont": "Liberation Sans", "labelFontSize": 12, "labelFontWeight": "bold", "labelFontStyle": "italic", "labelColor": "#000", "rowPadding": 3, "labelExpr": "{'G':'Genuine','P':'Playback','S':'Sly','N':'Naive'}[datum.label]"}}
}
},
{
"data": {"values": [{"v": -1}, {"v": 0}, {"v": 1}, {"v": 2}, {"v": 3}, {"v": 4}, {"v": 5}, {"v": 6}, {"v": 7}]},
"mark": {"type": "text", "align": "right", "baseline": "middle", "dx": -3, "fontSize": 8, "font": "Liberation Sans", "color": "#000"},
"encoding": {
"x": {"datum": -4, "type": "quantitative"},
"y": {"field": "v", "type": "quantitative"},
"text": {"field": "v", "type": "quantitative", "format": "d"}
}
},
{
"data": {"values": [{"t": "TD"}]},
"mark": {"type": "text", "align": "left", "baseline": "alphabetic", "dy": 27, "fontSize": 9, "fontWeight": "bold", "font": "Liberation Sans", "color": "#000"},
"encoding": {
"x": {"datum": 4.4, "type": "quantitative"},
"y": {"datum": -1, "type": "quantitative"},
"text": {"field": "t"}
}
}
]
}
